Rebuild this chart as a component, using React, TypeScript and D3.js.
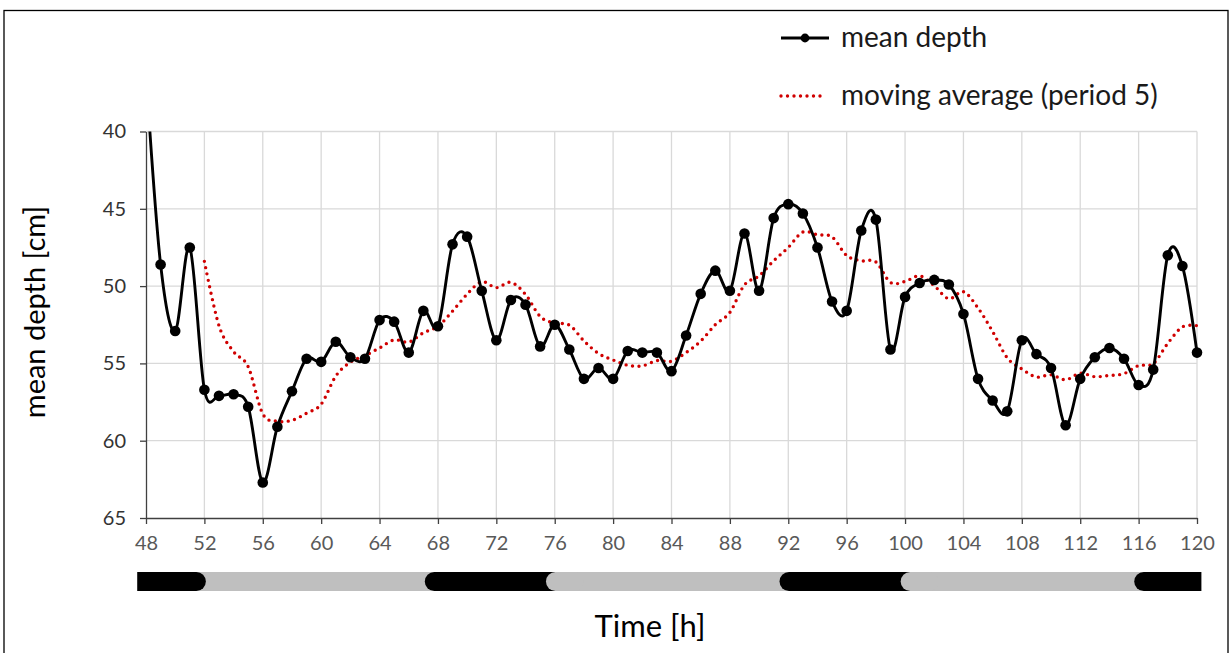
import React, { useEffect, useRef } from 'react';
import * as d3 from 'd3';

// hourly mean depth [cm], starting at hour 48
const startHour = 48;
const meanDepth = [
  36.3, 48.6, 52.9, 47.5, 56.7, 57.1, 57.0, 57.8, 62.7, 59.1, 56.8, 54.7, 54.9,
  53.6, 54.6, 54.7, 52.2, 52.3, 54.3, 51.6, 52.6, 47.3, 46.8, 50.3, 53.5, 50.9,
  51.2, 53.9, 52.5, 54.1, 56.0, 55.3, 56.0, 54.2, 54.3, 54.3, 55.5, 53.2, 50.5,
  49.0, 50.3, 46.6, 50.3, 45.6, 44.7, 45.3, 47.5, 51.0, 51.6, 46.4, 45.7, 54.1,
  50.7, 49.8, 49.6, 49.9, 51.8, 56.0, 57.4, 58.1, 53.5, 54.4, 55.3, 59.0, 56.0,
  54.6, 54.0, 54.7, 56.4, 55.4, 48.0, 48.7, 54.3,
];
const maPeriod = 5;
const xTicks = [48, 52, 56, 60, 64, 68, 72, 76, 80, 84, 88, 92, 96, 100, 104, 108, 112, 116, 120];
const yTicks = [40, 45, 50, 55, 60, 65];
// dark phases of the light/dark bar [start h, end h]
const darkPeriods = [[47.4, 52.1], [67.1, 75.4], [91.4, 99.7], [115.7, 120.3]];
const barExtent = [47.4, 120.3];

const W = 1232;
const H = 653;
const FONT = 'Lato, "Open Sans", sans-serif';

const App = () => {
  const ref = useRef<SVGSVGElement>(null);

  useEffect(() => {
    const svg = d3.select(ref.current);
    svg.selectAll('*').remove();

    const x = d3.scaleLinear().domain([48, 120]).range([146, 1197]);
    const y = d3.scaleLinear().domain([40, 65]).range([131.5, 518]);

    const points = meanDepth.map((v, i) => ({ h: startHour + i, v }));
    const ma = points
      .map((p, i) => {
        if (i < maPeriod - 1) return null;
        const win = meanDepth.slice(i - maPeriod + 1, i + 1);
        return { h: p.h, v: d3.mean(win) as number };
      })
      .filter(d => d !== null) as { h: number; v: number }[];

    // frame
    svg.append('rect')
      .attr('x', 4).attr('y', 10.5)
      .attr('width', 1224).attr('height', 660)
      .attr('fill', 'white')
      .attr('stroke', '#000').attr('stroke-width', 1.3);

    // clip only the top/bottom of the plot, markers at the ends stay whole
    svg.append('defs').append('clipPath').attr('id', 'plotClip')
      .append('rect')
      .attr('x', x(48) - 10).attr('y', y(40))
      .attr('width', x(120) - x(48) + 20).attr('height', y(65) - y(40));

    // grid
    const grid = svg.append('g');
    grid.selectAll('line.h')
      .data(yTicks.slice(0, -1))
      .join('line')
      .attr('x1', x(48)).attr('x2', x(120))
      .attr('y1', d => y(d)).attr('y2', d => y(d))
      .attr('stroke', '#d9d9d9').attr('stroke-width', 1.3);
    grid.selectAll('line.v')
      .data(xTicks.slice(1))
      .join('line')
      .attr('x1', d => x(d)).attr('x2', d => x(d))
      .attr('y1', y(40)).attr('y2', y(65))
      .attr('stroke', '#d9d9d9').attr('stroke-width', 1.3);

    // axes
    const yAxis = svg.append('g').attr('transform', `translate(${x(48)},0)`)
      .call(d3.axisLeft(y).tickValues(yTicks).tickSize(6).tickPadding(14).tickSizeOuter(0));
    yAxis.select('.domain').attr('stroke', '#404040').attr('stroke-width', 1.3);
    yAxis.selectAll('.tick line').attr('stroke', '#404040').attr('stroke-width', 1.3);
    yAxis.selectAll('.tick text')
      .attr('font-family', FONT).attr('font-size', 20).attr('fill', '#333');

    const xAxis = svg.append('g').attr('transform', `translate(0,${y(65)})`)
      .call(d3.axisBottom(x).tickValues(xTicks).tickSize(6).tickPadding(12).tickSizeOuter(0));
    xAxis.select('.domain').attr('stroke', '#404040').attr('stroke-width', 1.3);
    xAxis.selectAll('.tick line').attr('stroke', '#404040').attr('stroke-width', 1.3);
    xAxis.selectAll('.tick text')
      .attr('font-family', FONT).attr('font-size', 20).attr('fill', '#595959');

    // moving average
    const lineGen = d3.line<{ h: number; v: number }>()
      .x(d => x(d.h)).y(d => y(d.v))
      .curve(d3.curveCardinal.tension(0));

    const plot = svg.append('g').attr('clip-path', 'url(#plotClip)');
    plot.append('path')
      .datum(ma)
      .attr('d', lineGen)
      .attr('fill', 'none')
      .attr('stroke', '#d00000')
      .attr('stroke-width', 3.4)
      .attr('stroke-linecap', 'round')
      .attr('stroke-dasharray', '0 6.5');

    // mean depth
    plot.append('path')
      .datum(points)
      .attr('d', lineGen)
      .attr('fill', 'none')
      .attr('stroke', '#000')
      .attr('stroke-width', 2.9);
    plot.selectAll('circle')
      .data(points)
      .join('circle')
      .attr('cx', d => x(d.h)).attr('cy', d => y(d.v))
      .attr('r', 5.3)
      .attr('fill', '#000');

    // light / dark bar
    const barY = 572;
    const barH = 19;
    const r = barH / 2;
    svg.append('defs').append('clipPath').attr('id', 'barClip')
      .append('rect')
      .attr('x', x(barExtent[0])).attr('y', barY)
      .attr('width', x(barExtent[1]) - x(barExtent[0])).attr('height', barH);
    const bar = svg.append('g').attr('clip-path', 'url(#barClip)');
    bar.append('rect')
      .attr('x', x(barExtent[0])).attr('y', barY)
      .attr('width', x(barExtent[1]) - x(barExtent[0])).attr('height', barH)
      .attr('fill', '#bfbfbf');
    darkPeriods.forEach(([s, e], i) => {
      const atStart = s <= barExtent[0];
      const atEnd = e >= barExtent[1];
      const left = atStart ? x(s) - 2 * r : x(s);
      const right = atEnd ? x(e) + 2 * r : (atStart ? x(e) : x(e) + 2 * r);
      bar.append('rect')
        .attr('x', left).attr('y', barY)
        .attr('width', right - left).attr('height', barH)
        .attr('rx', r).attr('ry', r)
        .attr('fill', '#000');
      // light phase starting after an inner night overlaps with a rounded edge
      if (!atStart && !atEnd) {
        bar.append('rect')
          .attr('x', x(e)).attr('y', barY)
          .attr('width', 4 * r).attr('height', barH)
          .attr('rx', r).attr('ry', r)
          .attr('fill', '#bfbfbf');
      }
    });

    // titles
    svg.append('text')
      .attr('transform', `translate(45,312) rotate(-90)`)
      .attr('text-anchor', 'middle')
      .attr('font-family', FONT).attr('font-size', 29).attr('fill', '#000')
      .text('mean depth [cm]');
    svg.append('text')
      .attr('x', 650).attr('y', 637)
      .attr('text-anchor', 'middle')
      .attr('font-family', FONT).attr('font-size', 31).attr('fill', '#000')
      .text('Time [h]');

    // legend
    const legend = svg.append('g');
    legend.append('line')
      .attr('x1', 781).attr('x2', 829).attr('y1', 38).attr('y2', 38)
      .attr('stroke', '#000').attr('stroke-width', 2.8);
    legend.append('circle').attr('cx', 805).attr('cy', 38).attr('r', 4.4).attr('fill', '#000');
    legend.append('text')
      .attr('x', 841).attr('y', 47)
      .attr('font-family', FONT).attr('font-size', 28).attr('fill', '#1a1a1a')
      .text('mean depth');
    legend.append('line')
      .attr('x1', 781).attr('x2', 826).attr('y1', 96).attr('y2', 96)
      .attr('stroke', '#d00000').attr('stroke-width', 3.4)
      .attr('stroke-linecap', 'round').attr('stroke-dasharray', '0 6.5');
    legend.append('text')
      .attr('x', 841).attr('y', 105)
      .attr('font-family', FONT).attr('font-size', 28).attr('fill', '#1a1a1a')
      .text('moving average (period 5)');
  }, []);

  return (
    <svg
      ref={ref}
      width={W}
      height={H}
      style={{ position: 'absolute', left: 0, top: 0, background: '#fff' }}
    />
  );
};

export default App;
